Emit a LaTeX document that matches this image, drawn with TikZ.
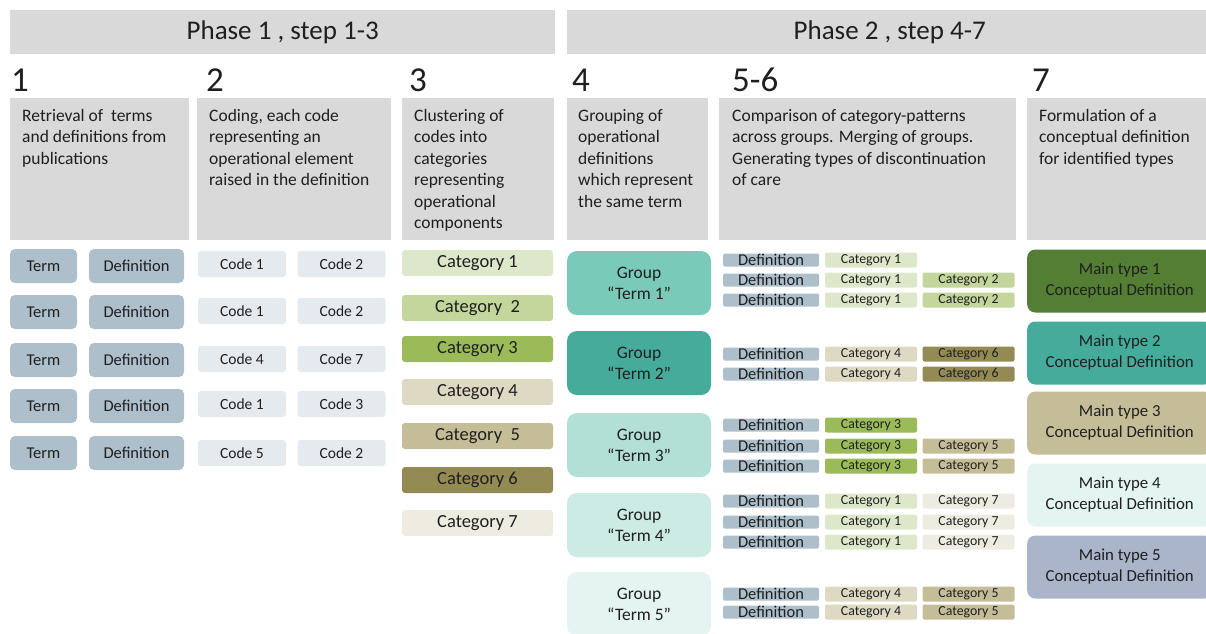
\documentclass[tikz,border=0pt]{standalone}
\usepackage{fontspec}
\setmainfont{Carlito}
\usetikzlibrary{positioning}
\definecolor{hdrgray}{HTML}{D9D9D9}
\definecolor{txtdark}{HTML}{1F1F1F}
\definecolor{termfill}{HTML}{ADBFCB}
\definecolor{codefill}{HTML}{E4EAEE}
\definecolor{cat1}{HTML}{DDE8CB}
\definecolor{cat2}{HTML}{C3D69B}
\definecolor{cat3}{HTML}{9BBB59}
\definecolor{cat4}{HTML}{DDD9C3}
\definecolor{cat5}{HTML}{C4BD97}
\definecolor{cat6}{HTML}{948A54}
\definecolor{cat7}{HTML}{EEECE1}
\definecolor{grp1}{HTML}{7ACAB9}
\definecolor{grp2}{HTML}{45AB9A}
\definecolor{grp3}{HTML}{B2DFD6}
\definecolor{grp4}{HTML}{CBEBE4}
\definecolor{grp5}{HTML}{E3F4F1}
\definecolor{main1}{HTML}{547E33}
\definecolor{main2}{HTML}{45AB9A}
\definecolor{main3}{HTML}{C4BD97}
\definecolor{main4}{HTML}{E4F4F1}
\definecolor{main5}{HTML}{AAB5CA}

\begin{document}
\begin{tikzpicture}[x=1pt, y=-1pt,
    every node/.style={text=txtdark, inner sep=0pt},
    phase/.style={fill=hdrgray, anchor=north west, minimum height=44pt,
                  font=\fontsize{27}{30}\selectfont},
    stepnum/.style={anchor=base west, font=\fontsize{35}{38}\selectfont},
    descbox/.style={fill=hdrgray, anchor=north west, minimum height=142pt},
    desc/.style={anchor=north west, align=left, font=\fontsize{17.5}{21.5}\selectfont},
    termbox/.style={fill=termfill, rounded corners=5pt, minimum height=34pt,
                    font=\fontsize{16.5}{19}\selectfont},
    codebox/.style={fill=codefill, rounded corners=3pt, minimum width=88pt,
                    minimum height=26pt, font=\fontsize{15.5}{18}\selectfont},
    catbox/.style={rounded corners=3pt, minimum width=151pt, minimum height=26pt,
                   font=\fontsize{18.5}{21}\selectfont},
    grpbox/.style={rounded corners=10pt, minimum width=144pt, minimum height=64pt,
                   align=center, font=\fontsize{17.5}{21}\selectfont},
    defbar/.style={fill=termfill, rounded corners=1.5pt, minimum width=96pt,
                   minimum height=13pt, font=\fontsize{16.5}{16}\selectfont},
    catbar/.style={rounded corners=2pt, minimum width=92pt, minimum height=15pt,
                   font=\fontsize{13.8}{14}\selectfont},
    mainbox/.style={rounded corners=8pt, minimum width=185pt, minimum height=63pt,
                    align=center, font=\fontsize{16.8}{21}\selectfont}
  ]
  \useasboundingbox (0,0) rectangle (1206,633);
  % phase headers
  \node[phase, minimum width=545pt] (ph1) at (10,10) {Phase 1 , step 1-3};
  \node[phase, minimum width=645pt] (ph2) at (567,10) {Phase 2 , step 4-7};
  % step numbers
  \node[stepnum] (n1) at (11,91) {1};
  \node[stepnum] (n2) at (206,91) {2};
  \node[stepnum] (n3) at (409,91) {3};
  \node[stepnum] (n4) at (572,91) {4};
  \node[stepnum] (n5) at (732,91) {5-6};
  \node[stepnum] (n7) at (1032,91) {7};
  % description boxes
  \node[descbox, minimum width=179pt] (d1) at (10,98) {};
  \node[descbox, minimum width=194pt] (d2) at (197,98) {};
  \node[descbox, minimum width=152pt] (d3) at (402,98) {};
  \node[descbox, minimum width=141pt] (d4) at (567,98) {};
  \node[descbox, minimum width=297pt] (d5) at (719,98) {};
  \node[descbox, minimum width=185pt] (d7) at (1027,98) {};
  \node[desc] (t1) at ([shift={(12,11)}]d1.north west)
    {Retrieval of~ terms\\and definitions from\\publications};
  \node[desc] (t2) at ([shift={(12,11)}]d2.north west)
    {Coding, each code\\representing an\\operational element\\raised in the definition};
  \node[desc] (t3) at ([shift={(12,11)}]d3.north west)
    {Clustering of\\codes into\\categories\\representing\\operational\\components};
  \node[desc] (t4) at ([shift={(11,11)}]d4.north west)
    {Grouping of\\operational\\definitions\\which represent\\the same term};
  \node[desc] (t5) at ([shift={(13,11)}]d5.north west)
    {Comparison of category-patterns\\across groups. Merging of groups.\\Generating types of discontinuation\\of care};
  \node[desc] (t7) at ([shift={(12,11)}]d7.north west)
    {Formulation of a\\conceptual definition\\for identified types};
  % step 1: terms and definitions
  \foreach \y [count=\i] in {266,312,360,406,453} {
    \node[termbox, minimum width=67pt] (term\i) at (43.5,\y) {Term};
    \node[termbox, minimum width=95pt] (def\i) at (136.5,\y) {Definition};
  }
  % step 2: codes
  \foreach \y/\a/\b [count=\i] in {264/1/2, 311/1/2, 359/4/7, 404/1/3, 453/5/2} {
    \node[codebox] (codea\i) at (242,\y) {Code \a};
    \node[codebox] (codeb\i) at (341.5,\y) {Code \b};
  }
  % step 3: categories
  \foreach \y/\c/\t in {263/1/Category 1, 308/2/Category~ 2, 349/3/Category 3,
      392/4/Category 4, 436/5/Category~ 5, 480/6/Category 6, 523/7/Category 7} {
    \node[catbox, fill=cat\c] (cat\c) at (477.5,\y) {\t};
  }
  % step 4: groups
  \foreach \y/\g in {283/1, 363/2, 445/3, 525/4, 604/5} {
    \node[grpbox, fill=grp\g] (grp\g) at (639,\y) {Group\\“Term \g”};
  }
  % steps 5-6: category patterns
  \foreach \y/\a/\b [count=\i] in {260/1/0, 280/1/2, 300/1/2, 354/4/6, 374/4/6,
      425/3/0, 446/3/5, 466/3/5, 501/1/7, 522/1/7, 542/1/7, 594/4/5, 612/4/5} {
    \node[defbar] (row\i) at (771,\y) {Definition};
    \node[catbar, fill=cat\a] (rowa\i) at (871,\y) {Category \a};
    \ifnum\b>0
      \node[catbar, fill=cat\b] (rowb\i) at (968.5,\y) {Category \b};
    \fi
  }
  % step 7: main types
  \foreach \y/\m in {281/1, 353/2, 423/3, 495/4, 567/5} {
    \node[mainbox, fill=main\m, anchor=west] (main\m) at (1027,\y)
      {Main type \m\\Conceptual Definition};
  }
\end{tikzpicture}
\end{document}
